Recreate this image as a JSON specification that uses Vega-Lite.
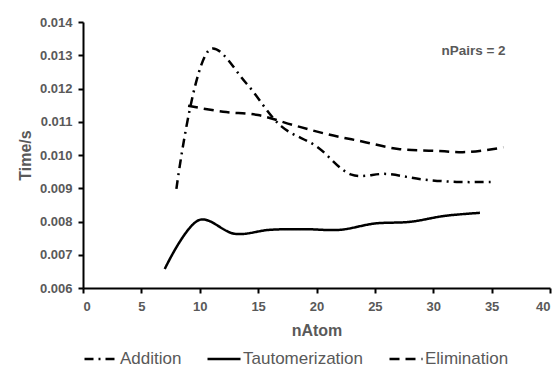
{
  "$schema": "https://vega.github.io/schema/vega-lite/v6.json",
  "width": 467,
  "height": 266,
  "autosize": {"type": "none"},
  "padding": {"left": 83, "top": 22, "right": 10, "bottom": 86},
  "background": "white",
  "config": {
    "view": {"stroke": null},
    "font": "Liberation Sans"
  },
  "encoding": {
    "x": {
      "field": "nAtom", "type": "quantitative",
      "scale": {"domain": [0, 40], "nice": false, "zero": false},
      "axis": {
        "title": "nAtom", "values": [0, 5, 10, 15, 20, 25, 30, 35, 40],
        "grid": false, "domainColor": "black", "domainWidth": 2, "labelOverlap": false,
        "tickColor": "black", "tickWidth": 2, "tickSize": 5,
        "labelFont": "Liberation Sans", "labelFontWeight": "bold", "labelFontSize": 13,
        "labelColor": "#595959", "labelPadding": 7,
        "titleFont": "Liberation Sans", "titleFontWeight": "bold", "titleFontSize": 16,
        "titleColor": "#595959", "titlePadding": 9
      }
    },
    "y": {
      "field": "time", "type": "quantitative",
      "scale": {"domain": [0.006, 0.014], "nice": false, "zero": false},
      "axis": {
        "title": "Time/s", "values": [0.006, 0.007, 0.008, 0.009, 0.01, 0.011, 0.012, 0.013, 0.014],
        "format": ".3f", "labelOverlap": false, "labelBound": false,
        "grid": false, "domainColor": "black", "domainWidth": 2,
        "tickColor": "black", "tickWidth": 2, "tickSize": 5,
        "labelFont": "Liberation Sans", "labelFontWeight": "bold", "labelFontSize": 13,
        "labelColor": "#595959", "labelPadding": 6,
        "titleFont": "Liberation Sans", "titleFontWeight": "bold", "titleFontSize": 16,
        "titleColor": "#595959", "titlePadding": 6
      }
    }
  },
  "layer": [
    {
      "data": {
        "values": [
          {"series": "Addition", "nAtom": 8, "time": 0.00898},
          {"series": "Addition", "nAtom": 11, "time": 0.0132},
          {"series": "Addition", "nAtom": 14, "time": 0.01215},
          {"series": "Addition", "nAtom": 17, "time": 0.01086},
          {"series": "Addition", "nAtom": 20, "time": 0.01026},
          {"series": "Addition", "nAtom": 23, "time": 0.00941},
          {"series": "Addition", "nAtom": 26, "time": 0.00943},
          {"series": "Addition", "nAtom": 29, "time": 0.00927},
          {"series": "Addition", "nAtom": 32, "time": 0.00919},
          {"series": "Addition", "nAtom": 35, "time": 0.00919},
          {"series": "Tautomerization", "nAtom": 7, "time": 0.00657},
          {"series": "Tautomerization", "nAtom": 10, "time": 0.00805},
          {"series": "Tautomerization", "nAtom": 13, "time": 0.00763},
          {"series": "Tautomerization", "nAtom": 16, "time": 0.00775},
          {"series": "Tautomerization", "nAtom": 19, "time": 0.00777},
          {"series": "Tautomerization", "nAtom": 22, "time": 0.00775},
          {"series": "Tautomerization", "nAtom": 25, "time": 0.00794},
          {"series": "Tautomerization", "nAtom": 28, "time": 0.00799},
          {"series": "Tautomerization", "nAtom": 31, "time": 0.00817},
          {"series": "Tautomerization", "nAtom": 34, "time": 0.00826},
          {"series": "Elimination", "nAtom": 9, "time": 0.01148},
          {"series": "Elimination", "nAtom": 12, "time": 0.0113},
          {"series": "Elimination", "nAtom": 15, "time": 0.0112},
          {"series": "Elimination", "nAtom": 18, "time": 0.0109},
          {"series": "Elimination", "nAtom": 21, "time": 0.01062},
          {"series": "Elimination", "nAtom": 24, "time": 0.0104},
          {"series": "Elimination", "nAtom": 27, "time": 0.01018},
          {"series": "Elimination", "nAtom": 30, "time": 0.01013},
          {"series": "Elimination", "nAtom": 33, "time": 0.01009},
          {"series": "Elimination", "nAtom": 36, "time": 0.01023}
        ]
      },
      "mark": {"type": "line", "interpolate": "catmull-rom", "strokeWidth": 2.5, "color": "black"},
      "encoding": {
        "detail": {"field": "series"},
        "strokeDash": {
          "field": "series", "type": "nominal",
          "scale": {
            "domain": ["Addition", "Tautomerization", "Elimination"],
            "range": [[9, 5, 2, 5], [1, 0], [10, 6]]
          },
          "legend": {
            "title": null, "orient": "none", "direction": "horizontal",
            "legendX": 0, "legendY": 319, "padding": 0,
            "symbolType": "stroke", "symbolSize": 1089, "symbolStrokeWidth": 2.5,
            "symbolStrokeColor": "black",
            "labelFont": "Liberation Sans", "labelFontSize": 17, "labelColor": "#595959",
            "labelOffset": 1, "columnPadding": 20
          }
        }
      }
    },
    {
      "data": {"values": [{"label": "nPairs = 2", "nAtom": 33.45, "time": 0.01314}]},
      "mark": {"type": "text", "font": "Liberation Sans", "fontWeight": "bold", "fontSize": 13.5, "color": "#595959", "align": "center", "baseline": "middle"},
      "encoding": {
        "text": {"field": "label"}
      }
    }
  ]
}
